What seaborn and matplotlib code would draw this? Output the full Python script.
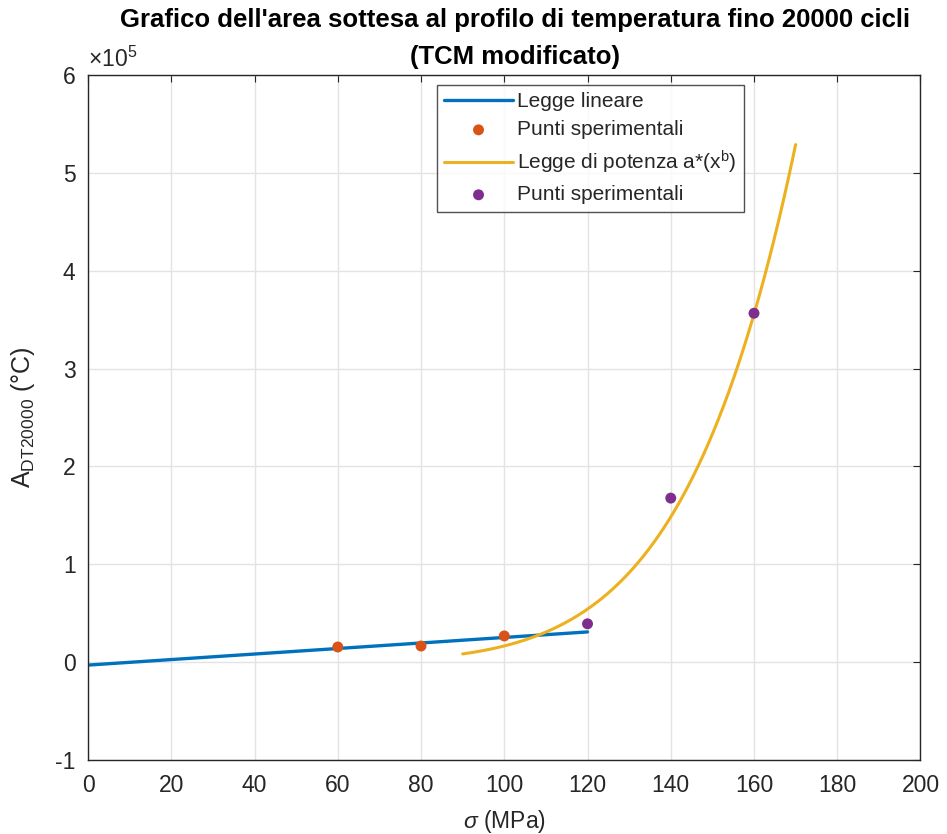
import numpy as np
import pandas as pd
import matplotlib
matplotlib.use("Agg")
import matplotlib.pyplot as plt
import seaborn as sns

# Punti sperimentali (MPa, area sottesa in °C)
sigma_lin = [60, 80, 100]
area_lin = [15300, 16300, 26600]
sigma_pow = [120, 140, 160]
area_pow = [39000, 167500, 356500]

# Coefficienti delle leggi fittate
lin_slope = 282.5
lin_intercept = -3200
lin_range = (0, 120)
pow_a = 1.3e-9
pow_b = 6.55
pow_range = (90, 170)

blue = "#0072BD"
orange = "#D95319"
yellow = "#EDB120"
purple = "#7E2F8E"
dark = "#262626"

sns.set_style("white")
plt.rcParams["font.family"] = ["Liberation Sans", "DejaVu Sans"]
plt.rcParams["mathtext.fontset"] = "custom"
plt.rcParams["mathtext.rm"] = "Liberation Sans"
plt.rcParams["mathtext.it"] = "Liberation Sans:italic"

fig = plt.figure(figsize=(9.47, 8.34), dpi=100)
ax = fig.add_axes([0.093, 0.089, 0.879, 0.821])

x_lin = np.linspace(*lin_range, 200)
x_pow = np.linspace(*pow_range, 200)
lin_df = pd.DataFrame({"x": x_lin, "y": lin_slope * x_lin + lin_intercept})
pow_df = pd.DataFrame({"x": x_pow, "y": pow_a * x_pow ** pow_b})

sns.lineplot(data=lin_df, x="x", y="y", ax=ax, color=blue, linewidth=2.4, label="Legge lineare")
sns.scatterplot(x=sigma_lin, y=area_lin, ax=ax, color=orange, s=62, edgecolor="none",
                label="Punti sperimentali", zorder=3)
sns.lineplot(data=pow_df, x="x", y="y", ax=ax, color=yellow, linewidth=2.2,
             label=r"Legge di potenza a*(x$^{\rm b}$)")
sns.scatterplot(x=sigma_pow, y=area_pow, ax=ax, color=purple, s=62, edgecolor="none",
                label="Punti sperimentali", zorder=3)

ax.set_xlim(0, 200)
ax.set_ylim(-1e5, 6e5)
ax.set_xticks(np.arange(0, 201, 20))
ax.set_yticks(np.arange(-1e5, 6.01e5, 1e5))
ax.set_yticklabels([f"{int(v)}" for v in np.arange(-1, 7)])
ax.grid(True, color="#e3e3e3", linewidth=1)
ax.tick_params(direction="in", length=5, labelsize=16.5, colors=dark, labelcolor=dark,
               top=True, right=True)
ax.tick_params(axis="x", pad=10)
ax.tick_params(axis="y", pad=9)
for s in ax.spines.values():
    s.set_color(dark)
    s.set_linewidth(1)

ax.set_xlabel(r"$\it{\sigma}$ (MPa)", fontsize=16.5, color=dark, labelpad=8)
ax.set_ylabel(r"A$_{\rm DT20000}$ (°C)", fontsize=18, color=dark, labelpad=13)
ax.text(0.0, 1.004, r"$\times10^{5}$", transform=ax.transAxes, fontsize=16.5, color=dark,
        ha="left", va="bottom")

# titolo su due righe, come testi separati
ax.text(0.513, 1.063, "Grafico dell'area sottesa al profilo di temperatura fino 20000 cicli",
        transform=ax.transAxes, ha="center", va="bottom", fontsize=18.5, fontweight="bold",
        color="black")
ax.text(0.513, 1.009, "(TCM modificato)", transform=ax.transAxes, ha="center", va="bottom",
        fontsize=18.5, fontweight="bold", color="black")

leg = ax.legend(loc="upper left", bbox_to_anchor=(0.419, 0.986), fontsize=15, frameon=True,
                fancybox=False, edgecolor=dark, handlelength=3.3, handletextpad=0.2,
                borderpad=0.35, labelspacing=0.45, borderaxespad=0)
leg.get_frame().set_linewidth(1)

fig.savefig("out.png", dpi=100, facecolor="white")
